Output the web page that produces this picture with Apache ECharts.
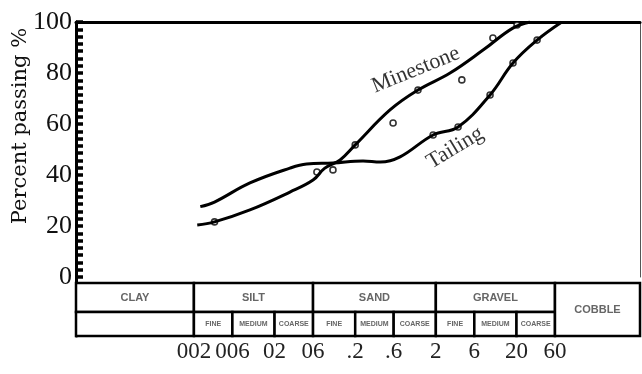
<!DOCTYPE html>
<html>
<head>
<meta charset="utf-8">
<script src="https://cdn.jsdelivr.net/npm/echarts@6/dist/echarts.min.js"></script>
<style>
  html, body { margin: 0; background: #fff; }
  #chart { width: 642px; height: 374px; }
</style>
</head>
<body>
<div id="chart"></div>
<script>
// grain size in mm, percent passing
const minestoneSize = [0.0022, 0.0036, 0.0099, 0.031, 0.06, 0.084, 0.13, 0.2, 0.54, 1.2, 3.0, 7.7, 18, 29.5];
const minestonePass = [20.4, 21.6, 26.3, 33.3, 38.0, 42.7, 45.9, 51.8, 65.5, 73.3, 80, 89, 97.6, 100];
const tailingSize = [0.0024, 0.0036, 0.0099, 0.031, 0.05, 0.106, 0.25, 0.41, 0.72, 1.85, 3.77, 9.4, 18.1, 36, 73];
const tailingPass = [27.6, 29.4, 36.9, 42.7, 44.3, 44.7, 45.5, 45.1, 47.1, 55.7, 58.8, 71.4, 83.9, 92.9, 100];

// measured points (open circles)
const minestoneTestSize = [0.0036, 0.067, 0.2, 0.59, 1.2, 4.2, 10.2, 20.3];
const minestoneTestPass = [21.6, 41.2, 51.8, 60.4, 73.3, 77.3, 93.7, 98.8];
const tailingTestSize = [0.106, 1.85, 3.77, 9.4, 18.1, 36];
const tailingTestPass = [42.0, 55.7, 58.8, 71.4, 83.9, 92.9];

const curveNames = ["Minestone", "Tailing"];
const curveLabelSize = [1.13, 3.46];
const curveLabelPass = [81.2, 50.6];
const curveLabelAngle = [22, 31];

// x axis range (mm) and size classes
const sizeMin = 6.9e-5;
const sizeMax = 680;
const tickSizes = [0.002, 0.006, 0.02, 0.06, 0.2, 0.6, 2, 6, 20, 60];
const tickLabels = ["002", "006", "02", "06", ".2", ".6", "2", "6", "20", "60"];
const classNames = ["CLAY", "SILT", "SAND", "GRAVEL"];
const classBounds = [sizeMin, 0.002, 0.06, 2, 60];
const subNames = ["FINE", "MEDIUM", "COARSE"];

const lg = (v) => Math.log10(v);
const xMin = lg(sizeMin), xMax = lg(sizeMax);
const pairs = (xs, ys) => xs.map((x, i) => [lg(x), ys[i]]);

// table cells: [x0, x1, rowTop, rowBottom] + label
const ROW1 = [0, 1], ROW2 = [1, 1.83];
const cells = [];
classNames.forEach((name, i) => {
  cells.push({ v: [lg(classBounds[i]), lg(classBounds[i + 1]), ...ROW1], label: name, small: false });
});
cells.push({ v: [xMin, lg(0.002), ...ROW2], label: "", small: true });
for (let i = 0; i < tickSizes.length - 1; i++) {
  cells.push({ v: [lg(tickSizes[i]), lg(tickSizes[i + 1]), ...ROW2], label: subNames[i % 3], small: true });
}
cells.push({ v: [lg(60), xMax, ROW1[0], ROW2[1]], label: "COBBLE", small: false });

const chart = echarts.init(document.getElementById("chart"));
const serif = '"Liberation Serif", "DejaVu Serif", serif';
const noZeroLine = (w, c) => ({ show: true, onZero: false, lineStyle: { color: c || "#000", width: w } });

chart.setOption({
  animation: false,
  grid: [
    { left: 76, right: 2, top: 22, bottom: 97, outerBoundsMode: "none", containLabel: false },
    { left: 76, right: 2, top: 277, bottom: 38, outerBoundsMode: "none", containLabel: false }
  ],
  xAxis: [
    { type: "value", gridIndex: 0, min: xMin, max: xMax, show: false },
    {
      type: "value", gridIndex: 0, min: xMin, max: xMax, position: "top",
      axisLine: noZeroLine(3),
      axisTick: { show: false }, axisLabel: { show: false }, splitLine: { show: false }
    },
    {
      type: "value", gridIndex: 1, min: xMin, max: xMax,
      axisLine: { show: false, onZero: false }, axisTick: { show: false }, splitLine: { show: false },
      axisLabel: {
        customValues: tickSizes.map(lg),
        margin: 4,
        fontFamily: serif, fontSize: 23, color: "#222",
        formatter: (v) => {
          const i = tickSizes.findIndex((s) => Math.abs(lg(s) - v) < 1e-6);
          return i >= 0 ? tickLabels[i] : "";
        }
      }
    }
  ],
  yAxis: [
    {
      type: "value", gridIndex: 0, min: 0, max: 100, interval: 20, position: "left",
      name: "Percent passing %", nameLocation: "middle", nameGap: 45, nameMoveOverlap: false,
      nameTextStyle: { fontFamily: '"DejaVu Serif", serif', fontSize: 21, color: "#111", padding: [0, 0, 0, 47] },
      axisLine: noZeroLine(3),
      axisTick: { show: true, inside: true, length: 7, lineStyle: { color: "#000", width: 3.5 } },
      minorTick: { show: true, splitNumber: 7, length: 7, lineStyle: { color: "#000", width: 3.5 } },
      axisLabel: { margin: 4, fontFamily: serif, fontSize: 26, color: "#111" },
      splitLine: { show: false }
    },
    {
      type: "value", gridIndex: 0, min: 0, max: 100, position: "right",
      axisLine: noZeroLine(1, "#555"),
      axisTick: { show: false }, axisLabel: { show: false }, splitLine: { show: false }
    },
    {
      type: "value", gridIndex: 1, min: -0.21, max: 1.83, inverse: true, position: "left",
      axisLine: noZeroLine(3),
      axisTick: { show: false }, axisLabel: { show: false }, splitLine: { show: false }
    }
  ],
  series: [
    {
      name: curveNames[0], type: "line", xAxisIndex: 0, yAxisIndex: 0,
      data: pairs(minestoneSize, minestonePass), smooth: 0.4, showSymbol: false,
      lineStyle: { color: "#000", width: 3 }
    },
    {
      name: curveNames[1], type: "line", xAxisIndex: 0, yAxisIndex: 0,
      data: pairs(tailingSize, tailingPass), smooth: 0.4, showSymbol: false,
      lineStyle: { color: "#000", width: 3 }
    },
    {
      type: "scatter", xAxisIndex: 0, yAxisIndex: 0,
      data: pairs(minestoneTestSize, minestoneTestPass).concat(pairs(tailingTestSize, tailingTestPass)),
      symbol: "circle", symbolSize: 6,
      itemStyle: { color: "#fff", borderColor: "#000", borderWidth: 1.6 }
    },
    {
      type: "scatter", xAxisIndex: 0, yAxisIndex: 0, symbolSize: 0, silent: true,
      data: curveNames.map((n, i) => ({
        value: [lg(curveLabelSize[i]), curveLabelPass[i]],
        name: n,
        label: { rotate: curveLabelAngle[i] }
      })),
      label: {
        show: true, position: "inside", formatter: (p) => p.name,
        fontFamily: serif, fontSize: 22, color: "#000"
      }
    },
    {
      type: "custom", xAxisIndex: 2, yAxisIndex: 2, silent: true,
      data: cells.map((c) => c.v),
      renderItem: (params, api) => {
        const c = cells[params.dataIndex];
        const p0 = api.coord([api.value(0), api.value(2)]);
        const p1 = api.coord([api.value(1), api.value(3)]);
        return {
          type: "group",
          children: [
            {
              type: "rect",
              shape: { x: p0[0], y: p0[1], width: p1[0] - p0[0], height: p1[1] - p0[1] },
              style: { fill: "#fff", stroke: "#000", lineWidth: 2.5 }
            },
            {
              type: "text",
              style: {
                text: c.label, x: (p0[0] + p1[0]) / 2, y: (p0[1] + p1[1]) / 2,
                align: "center", verticalAlign: "middle",
                font: c.small ? "bold 7px Liberation Sans" : "bold 11px Liberation Sans",
                fill: "#666"
              }
            }
          ]
        };
      }
    }
  ]
});
</script>
</body>
</html>
